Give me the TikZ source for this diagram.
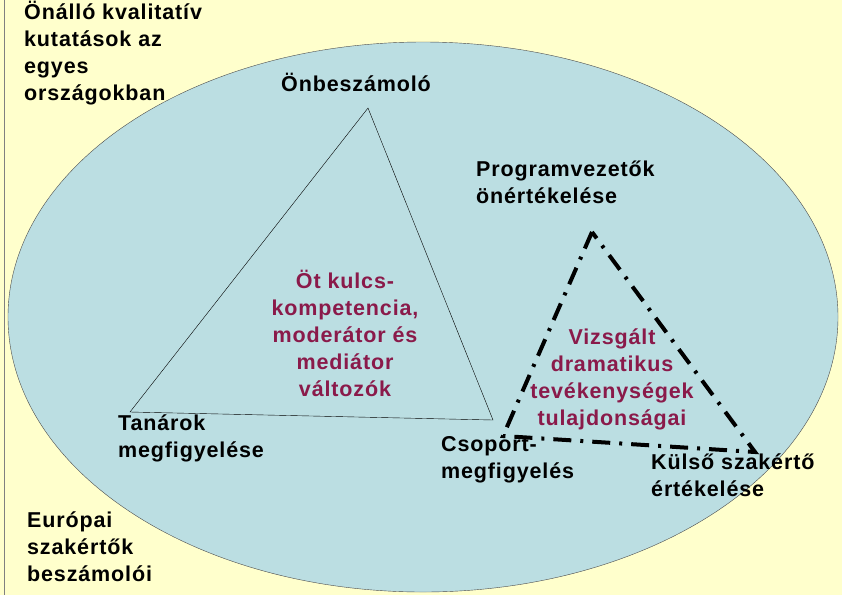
\documentclass[tikz,border=0pt]{standalone}
\usepackage{fontspec}
\setmainfont{Liberation Sans}[LetterSpace=4]
\definecolor{bg}{HTML}{FFFFCC}
\definecolor{ell}{HTML}{BBDEE2}
\definecolor{mag}{HTML}{8A1A4A}
\begin{document}
\begin{tikzpicture}[x=1pt,y=-1pt,
  lbl/.style={font=\fontsize{21.5}{27}\selectfont\bfseries,align=left,inner sep=0pt,anchor=north west},
  ctr/.style={font=\fontsize{21.5}{27}\selectfont\bfseries,align=center,inner sep=0pt,text=mag},
  dd/.style={line width=4pt,dash pattern=on 18pt off 9pt on 3pt off 9pt}]
\fill[bg] (0,0) rectangle (842,595);
\useasboundingbox (0,0) rectangle (842,595);
\draw[gray] (4,0) -- (4,595);
\fill[ell] (423,317) ellipse [x radius=415, y radius=275];
\draw[black!70,thin] (423,317) ellipse [x radius=415, y radius=275];
\coordinate (a) at (368,108);
\coordinate (b) at (130,412);
\coordinate (c) at (493,420);
\draw[thin] (a) -- (b) -- (c) -- cycle;
\coordinate (d) at (592,232);
\coordinate (e) at (503,436);
\coordinate (f) at (755,452);
\draw[dd] (d) -- (e) -- (f) -- cycle;
\node[lbl] (t1) at (24,1) {Önálló kvalitatív\\kutatások az\\egyes\\országokban};
\node[lbl] (t2) at (281,73) {Önbeszámoló};
\node[lbl] (t3) at (476,161) {Programvezetők\\önértékelése};
\node[ctr] (t4) at (345,333) {Öt kulcs-\\kompetencia,\\moderátor és\\mediátor\\változók};
\node[ctr] (t5) at (612,379) {Vizsgált\\dramatikus\\tevékenységek\\tulajdonságai};
\node[lbl] (t6) at (118,415) {Tanárok\\megfigyelése};
\node[lbl] (t7) at (441,436) {Csoport-\\megfigyelés};
\node[lbl] (t8) at (651,454) {Külső szakértő\\értékelése};
\node[lbl] (t9) at (27,512) {Európai\\szakértők\\beszámolói};
\end{tikzpicture}
\end{document}
